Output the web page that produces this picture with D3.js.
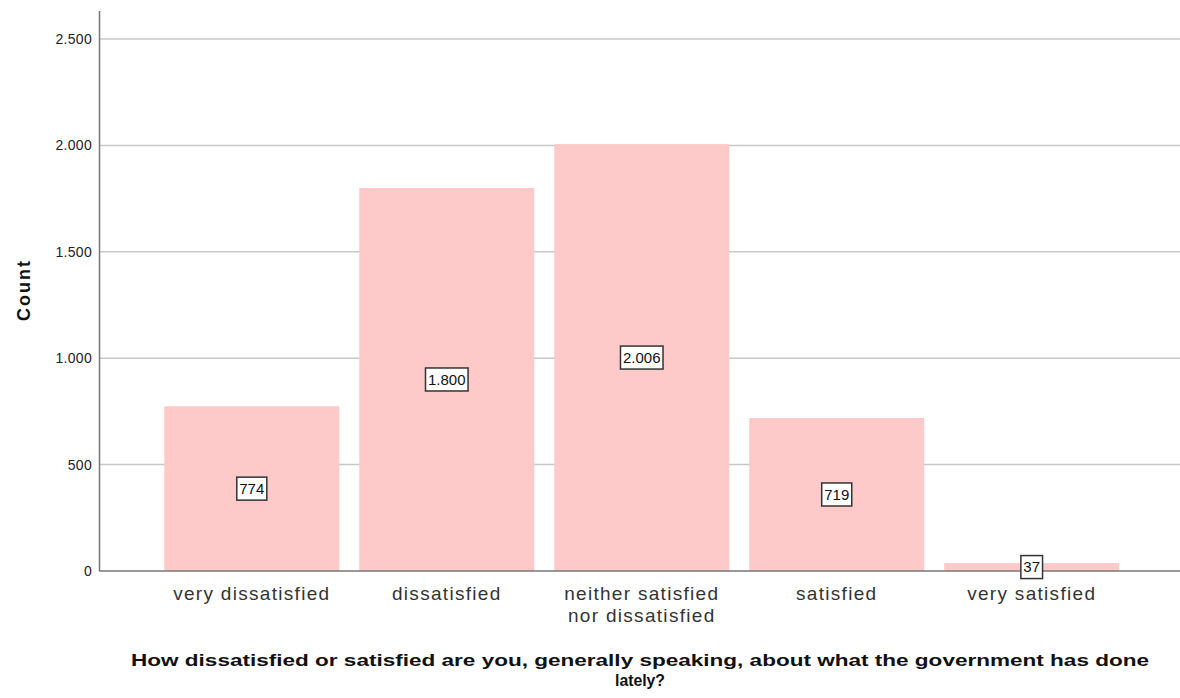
<!DOCTYPE html>
<html>
<head>
<meta charset="utf-8">
<script src="https://cdn.jsdelivr.net/npm/d3@7"></script>
<style>
  body { margin: 0; background: #fff; }
  text { font-family: "Liberation Sans", Arial, sans-serif; }
</style>
</head>
<body>
<svg id="chart"></svg>
<script>
// categories and counts
let categories = ['very dissatisfied', 'dissatisfied', 'neither satisfied\nnor dissatisfied', 'satisfied', 'very satisfied'];
let counts = [774, 1800, 2006, 719, 37];
let yTicks = [0, 500, 1000, 1500, 2000, 2500];
let titleLines = ['How dissatisfied or satisfied are you, generally speaking, about what the government has done', 'lately?'];

let w = 1180;
let h = 698;

// european number style: 2.500
let fmt = (v) => d3.format(',')(v).replace(/,/g, '.');

let svg = d3.select('#chart')
  .attr('width', w)
  .attr('height', h);

let xScale = d3.scaleBand()
  .domain(categories)
  .range([102.5, 1181])
  .paddingInner(0.1026)
  .paddingOuter(0.317);

let yScale = d3.scaleLinear()
  .domain([0, 2500])
  .range([571, 39]);

// gridlines
svg.append('g')
  .selectAll('line')
  .data(yTicks.filter((d) => d > 0))
  .enter()
  .append('line')
  .attr('x1', 100)
  .attr('x2', w)
  .attr('y1', (d) => yScale(d))
  .attr('y2', (d) => yScale(d))
  .attr('stroke', '#c8c8c8')
  .attr('stroke-width', 1.5);

// bars
svg.append('g')
  .selectAll('rect')
  .data(counts)
  .enter()
  .append('rect')
  .attr('x', (d, i) => xScale(categories[i]))
  .attr('width', xScale.bandwidth())
  .attr('y', (d) => yScale(d))
  .attr('height', (d) => yScale(0) - yScale(d))
  .attr('fill', '#fdc9c9');

// y axis
let yAxis = d3.axisLeft(yScale)
  .tickValues(yTicks)
  .tickSize(0)
  .tickPadding(8)
  .tickFormat(fmt);
let yAxisGroup = svg.append('g')
  .attr('transform', 'translate(100, 0)')
  .call(yAxis);
yAxisGroup.select('.domain').remove();
yAxisGroup.selectAll('text')
  .attr('font-size', 14)
  .attr('letter-spacing', 0.3)
  .attr('fill', '#222')
  .style('font-family', '"Liberation Sans", Arial, sans-serif');

svg.append('line')
  .attr('x1', 99.5).attr('x2', 99.5)
  .attr('y1', 11).attr('y2', yScale(0) + 0.5)
  .attr('stroke', '#777')
  .attr('stroke-width', 1.5);

// x axis
let xAxisGroup = svg.append('g')
  .attr('transform', `translate(0, ${yScale(0)})`)
  .call(d3.axisBottom(xScale).tickSize(0).tickFormat(''));
xAxisGroup.select('.domain')
  .attr('stroke', '#777')
  .attr('stroke-width', 1.5)
  .attr('d', `M100,0H${w}`);

xAxisGroup.selectAll('.tick').each(function(d) {
  let t = d3.select(this).append('text')
    .attr('fill', '#333')
    .attr('font-size', 19)
    .attr('letter-spacing', 1.3)
    .attr('text-anchor', 'middle');
  d.split('\n').forEach((line, i) => {
    t.append('tspan')
      .attr('x', 0)
      .attr('y', 29 + i * 22)
      .text(line);
  });
});

// value labels in boxes at half the bar height
let labels = svg.append('g')
  .selectAll('g')
  .data(counts)
  .enter()
  .append('g')
  .attr('transform', (d, i) => `translate(${xScale(categories[i]) + xScale.bandwidth() / 2}, ${yScale(d / 2)})`);

labels.append('text')
  .attr('text-anchor', 'middle')
  .attr('dy', '0.36em')
  .attr('font-size', 15)
  .attr('fill', '#111')
  .text((d) => fmt(d));

labels.each(function() {
  let g = d3.select(this);
  let bb = g.select('text').node().getBBox();
  g.insert('rect', 'text')
    .attr('x', bb.x - 2.5)
    .attr('y', -11.5)
    .attr('width', bb.width + 5)
    .attr('height', 23)
    .attr('fill', '#fff')
    .attr('stroke', '#333')
    .attr('stroke-width', 1.5);
});

// axis title
svg.append('text')
  .attr('transform', 'rotate(-90)')
  .attr('x', -290)
  .attr('y', 30)
  .attr('text-anchor', 'middle')
  .attr('font-size', 18)
  .attr('letter-spacing', 2)
  .attr('font-weight', 'bold')
  .attr('fill', '#111')
  .text('Count');

// x title, two lines
svg.append('text')
  .attr('x', 640)
  .attr('y', 666)
  .attr('text-anchor', 'middle')
  .attr('font-size', 17)
  .attr('font-weight', 'bold')
  .attr('fill', '#111')
  .attr('textLength', 1018)
  .attr('lengthAdjust', 'spacingAndGlyphs')
  .text(titleLines[0]);

svg.append('text')
  .attr('x', 640)
  .attr('y', 686)
  .attr('text-anchor', 'middle')
  .attr('font-size', 17)
  .attr('font-weight', 'bold')
  .attr('fill', '#111')
  .attr('textLength', 50)
  .attr('lengthAdjust', 'spacingAndGlyphs')
  .text(titleLines[1]);
</script>
</body>
</html>
